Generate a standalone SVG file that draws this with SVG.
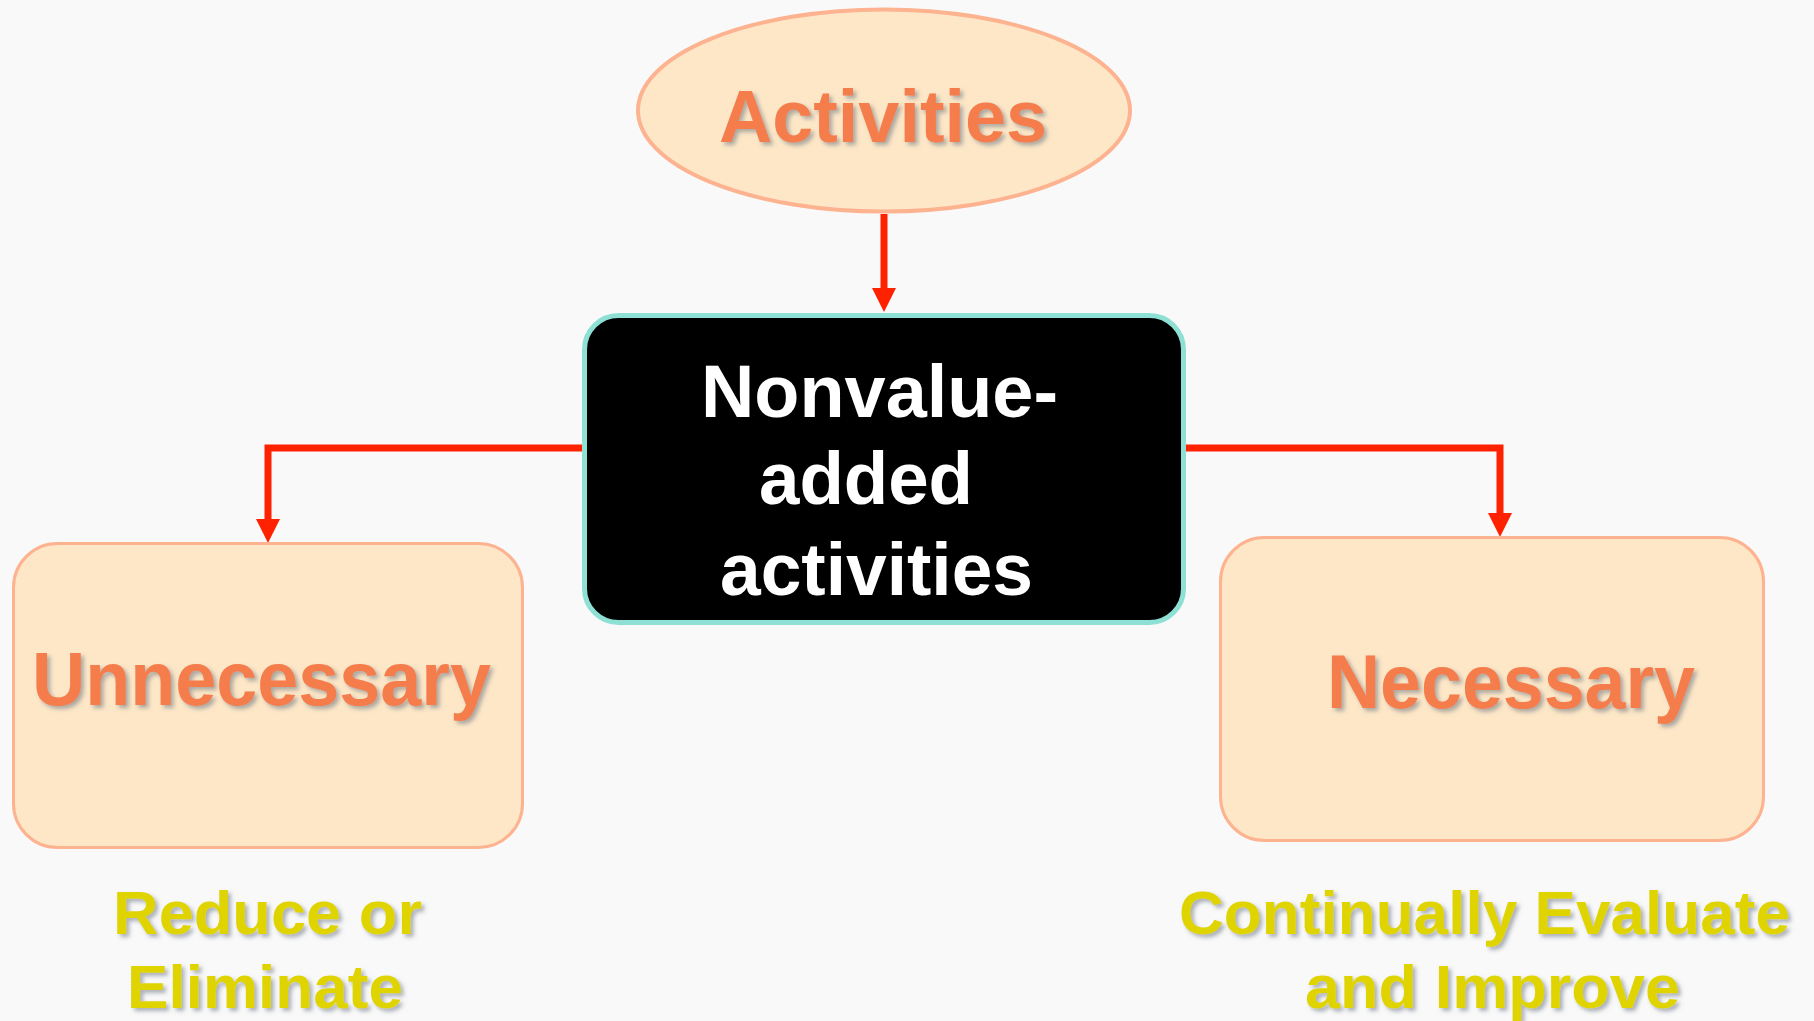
<svg xmlns="http://www.w3.org/2000/svg" width="1814" height="1021" viewBox="0 0 1814 1021">
<style>
.bg{fill:#F9F9F9}
.soft{fill:#FDE7C7;stroke:#FDB290}
.lbl{font-family:"Liberation Sans",Arial,sans-serif;font-weight:bold;fill:#F47D4B}
.wt{font-family:"Liberation Sans",Arial,sans-serif;font-weight:bold;fill:#FFFFFF}
.yl{font-family:"Liberation Sans",Arial,sans-serif;font-weight:bold;fill:#E0D400}
.conn{fill:none;stroke:#FF2200;stroke-width:7}
</style>
<defs>
<filter id="sh" x="-10%" y="-20%" width="130%" height="150%">
<feDropShadow dx="3" dy="3" stdDeviation="2" flood-color="#6b7280" flood-opacity="0.55"/>
</filter>
<marker id="ah" markerUnits="userSpaceOnUse" viewBox="0 0 24 24" markerWidth="24" markerHeight="24" refX="0" refY="12" orient="auto">
<path d="M0,0 L24,12 L0,24 z" fill="#FF2200"/>
</marker>
</defs>
<rect class="bg" x="0" y="0" width="1814" height="1021"/>
<g id="connectors">
<path class="conn" d="M884,214 V288" marker-end="url(#ah)"/>
<path class="conn" d="M582,448 H268 V519" marker-end="url(#ah)"/>
<path class="conn" d="M1186,448 H1500 V513" marker-end="url(#ah)"/>
</g>
<g id="activities">
<ellipse class="soft" cx="884" cy="110.5" rx="246" ry="101" stroke-width="4"/>
<text class="lbl" x="719" y="142" font-size="74" textLength="328" lengthAdjust="spacingAndGlyphs" filter="url(#sh)">Activities</text>
</g>
<g id="nonvalue">
<rect x="584.5" y="315.5" width="599" height="307" rx="34" fill="#000000" stroke="#8EE0D4" stroke-width="5"/>
<text class="wt" x="701" y="417" font-size="74" textLength="357" lengthAdjust="spacingAndGlyphs">Nonvalue-</text>
<text class="wt" x="759" y="504" font-size="74" textLength="214" lengthAdjust="spacingAndGlyphs">added</text>
<text class="wt" x="720" y="595" font-size="74" textLength="313" lengthAdjust="spacingAndGlyphs">activities</text>
</g>
<g id="unnecessary">
<rect class="soft" x="13.5" y="543.5" width="509" height="304" rx="44" stroke-width="3"/>
<text class="lbl" x="32" y="705" font-size="76" textLength="459" lengthAdjust="spacingAndGlyphs" filter="url(#sh)">Unnecessary</text>
</g>
<g id="necessary">
<rect class="soft" x="1220.5" y="537.5" width="543" height="303" rx="44" stroke-width="3"/>
<text class="lbl" x="1327" y="708" font-size="76" textLength="368" lengthAdjust="spacingAndGlyphs" filter="url(#sh)">Necessary</text>
</g>
<g id="reduce">
<text class="yl" x="113" y="934" font-size="62" textLength="309" lengthAdjust="spacingAndGlyphs" filter="url(#sh)">Reduce or</text>
<text class="yl" x="127" y="1008" font-size="62" textLength="276" lengthAdjust="spacingAndGlyphs" filter="url(#sh)">Eliminate</text>
</g>
<g id="evaluate">
<text class="yl" x="1179" y="934" font-size="62" textLength="611" lengthAdjust="spacingAndGlyphs" filter="url(#sh)">Continually Evaluate</text>
<text class="yl" x="1305" y="1008" font-size="62" textLength="375" lengthAdjust="spacingAndGlyphs" filter="url(#sh)">and Improve</text>
</g>
</svg>
